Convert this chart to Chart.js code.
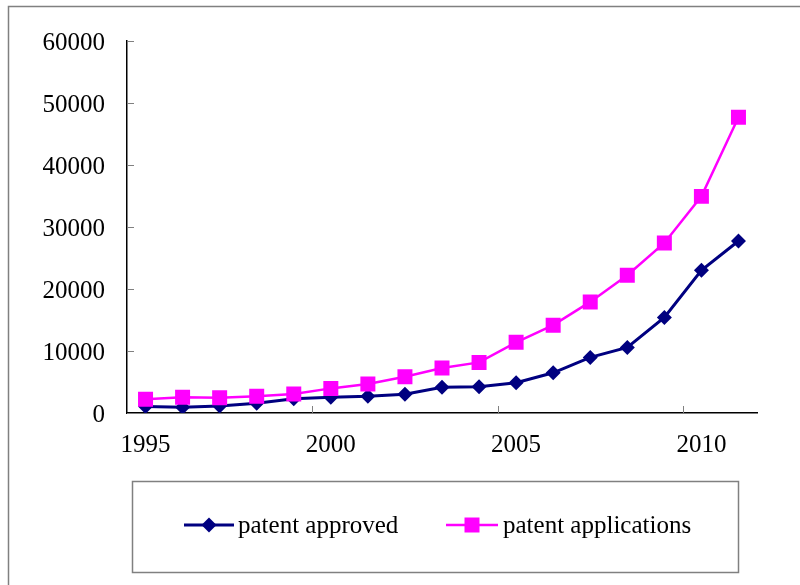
<!DOCTYPE html>
<html>
<head>
<meta charset="utf-8">
<script src="https://cdn.jsdelivr.net/npm/chart.js@4/dist/chart.umd.min.js"></script>
<style>
  html, body { margin: 0; padding: 0; background: #ffffff; }
  #wrap { width: 800px; height: 585px; }
</style>
</head>
<body>
<div id="wrap"><canvas id="c" width="800" height="585"></canvas></div>
<script>
// Yearly patent counts, 1995-2011
const years = ['1995', '1996', '1997', '1998', '1999', '2000', '2001', '2002', '2003',
               '2004', '2005', '2006', '2007', '2008', '2009', '2010', '2011'];
const patentApproved = [1050, 920, 1130, 1560, 2300, 2530, 2690, 3010, 4140,
                        4240, 4880, 6490, 8970, 10580, 15410, 23030, 27750];
const patentApplications = [2200, 2530, 2470, 2690, 3060, 3970, 4670, 5850, 7250,
                            8160, 11400, 14170, 17920, 22220, 27420, 34940, 47710];
const yTicks = [0, 10000, 20000, 30000, 40000, 50000, 60000];
const labelEvery = 5;

const FONT = 'Liberation Serif, Times New Roman, serif';
const FONT_SIZE = 25;
const NAVY = '#000080';
const MAGENTA = '#FF00FF';
const GREY = '#808080';

// white page with the thin outer frame
const framePlugin = {
  id: 'frame',
  beforeDraw(chart) {
    const ctx = chart.ctx;
    ctx.save();
    ctx.fillStyle = '#ffffff';
    ctx.fillRect(0, 0, chart.width, chart.height);
    ctx.strokeStyle = GREY;
    ctx.lineWidth = 1.5;
    ctx.strokeRect(8.5, 6.5, 1000, 1000);
    ctx.restore();
  }
};

// short tick marks pointing into the plot area
const innerTicksPlugin = {
  id: 'innerTicks',
  beforeDatasetsDraw(chart) {
    const ctx = chart.ctx;
    const x = chart.scales.x, y = chart.scales.y;
    const len = 7;
    ctx.save();
    ctx.strokeStyle = GREY;
    ctx.lineWidth = 1;
    ctx.beginPath();
    yTicks.forEach(v => {
      const py = Math.round(y.getPixelForValue(v)) + 0.5;
      ctx.moveTo(x.left, py);
      ctx.lineTo(x.left + len, py);
    });
    const half = (x.getPixelForValue(1) - x.getPixelForValue(0)) / 2;
    for (let i = labelEvery; i < years.length; i += labelEvery) {
      const px = Math.round(x.getPixelForValue(i) - half) + 0.5;
      ctx.moveTo(px, y.bottom);
      ctx.lineTo(px, y.bottom - len);
    }
    ctx.stroke();
    ctx.restore();
  }
};

function drawMarker(ctx, style, cx, cy, r, color) {
  ctx.fillStyle = color;
  ctx.beginPath();
  if (style === 'rectRot') {
    ctx.moveTo(cx, cy - r);
    ctx.lineTo(cx + r, cy);
    ctx.lineTo(cx, cy + r);
    ctx.lineTo(cx - r, cy);
    ctx.closePath();
  } else {
    const h = r * Math.SQRT1_2;
    ctx.rect(cx - h, cy - h, 2 * h, 2 * h);
  }
  ctx.fill();
}

// boxed legend below the plot: line + marker + label for each series
const boxLegendPlugin = {
  id: 'boxLegend',
  afterDraw(chart) {
    const ctx = chart.ctx;
    const box = { left: 132, top: 481, right: 738, bottom: 572 };
    const cy = 525;
    const items = [
      { lineFrom: 184, lineTo: 234, textX: 238 },
      { lineFrom: 446, lineTo: 498, textX: 503 }
    ];
    ctx.save();
    ctx.strokeStyle = GREY;
    ctx.lineWidth = 1.5;
    ctx.strokeRect(box.left + 0.5, box.top + 0.5, box.right - box.left, box.bottom - box.top);
    ctx.font = FONT_SIZE + 'px ' + FONT;
    ctx.textBaseline = 'middle';
    ctx.textAlign = 'left';
    chart.data.datasets.forEach((ds, i) => {
      const it = items[i];
      ctx.strokeStyle = ds.borderColor;
      ctx.lineWidth = ds.borderWidth;
      ctx.beginPath();
      ctx.moveTo(it.lineFrom, cy);
      ctx.lineTo(it.lineTo, cy);
      ctx.stroke();
      drawMarker(ctx, ds.pointStyle, (it.lineFrom + it.lineTo) / 2, cy, ds.pointRadius, ds.pointBackgroundColor);
      ctx.fillStyle = '#000000';
      ctx.fillText(ds.label, it.textX, cy + 1);
    });
    ctx.restore();
  }
};

new Chart(document.getElementById('c'), {
  type: 'line',
  data: {
    labels: years,
    datasets: [
      {
        label: 'patent approved',
        data: patentApproved,
        borderColor: NAVY,
        backgroundColor: NAVY,
        pointBackgroundColor: NAVY,
        pointBorderColor: NAVY,
        borderWidth: 3,
        pointStyle: 'rectRot',
        pointRadius: 7.5,
        pointBorderWidth: 0,
        tension: 0,
        order: 1
      },
      {
        label: 'patent applications',
        data: patentApplications,
        borderColor: MAGENTA,
        backgroundColor: MAGENTA,
        pointBackgroundColor: MAGENTA,
        pointBorderColor: MAGENTA,
        borderWidth: 2.5,
        pointStyle: 'rect',
        pointRadius: 10.6,
        pointBorderWidth: 0,
        tension: 0,
        order: 0
      }
    ]
  },
  options: {
    responsive: false,
    animation: false,
    layout: { padding: { top: 41, right: 43, bottom: 0, left: 0 } },
    plugins: {
      legend: { display: false },
      tooltip: { enabled: false },
      title: { display: false }
    },
    scales: {
      x: {
        type: 'category',
        offset: true,
        grid: { display: false, drawTicks: false },
        border: { display: true, color: '#000000', width: 1.5 },
        ticks: {
          autoSkip: false,
          maxRotation: 0,
          padding: 17,
          color: '#000000',
          font: { family: FONT, size: FONT_SIZE },
          callback: (v, i) => (i % labelEvery === 0 ? years[i] : '')
        },
        afterFit: s => { s.height = 172; }
      },
      y: {
        min: 0,
        max: 60000,
        grid: { display: false, drawTicks: false },
        border: { display: true, color: '#000000', width: 1.5 },
        ticks: {
          stepSize: 10000,
          padding: 22,
          labelOffset: 2,
          color: '#000000',
          font: { family: FONT, size: FONT_SIZE },
          callback: v => String(v)
        },
        afterFit: s => { s.width = 127; }
      }
    }
  },
  plugins: [framePlugin, innerTicksPlugin, boxLegendPlugin]
});
</script>
</body>
</html>
